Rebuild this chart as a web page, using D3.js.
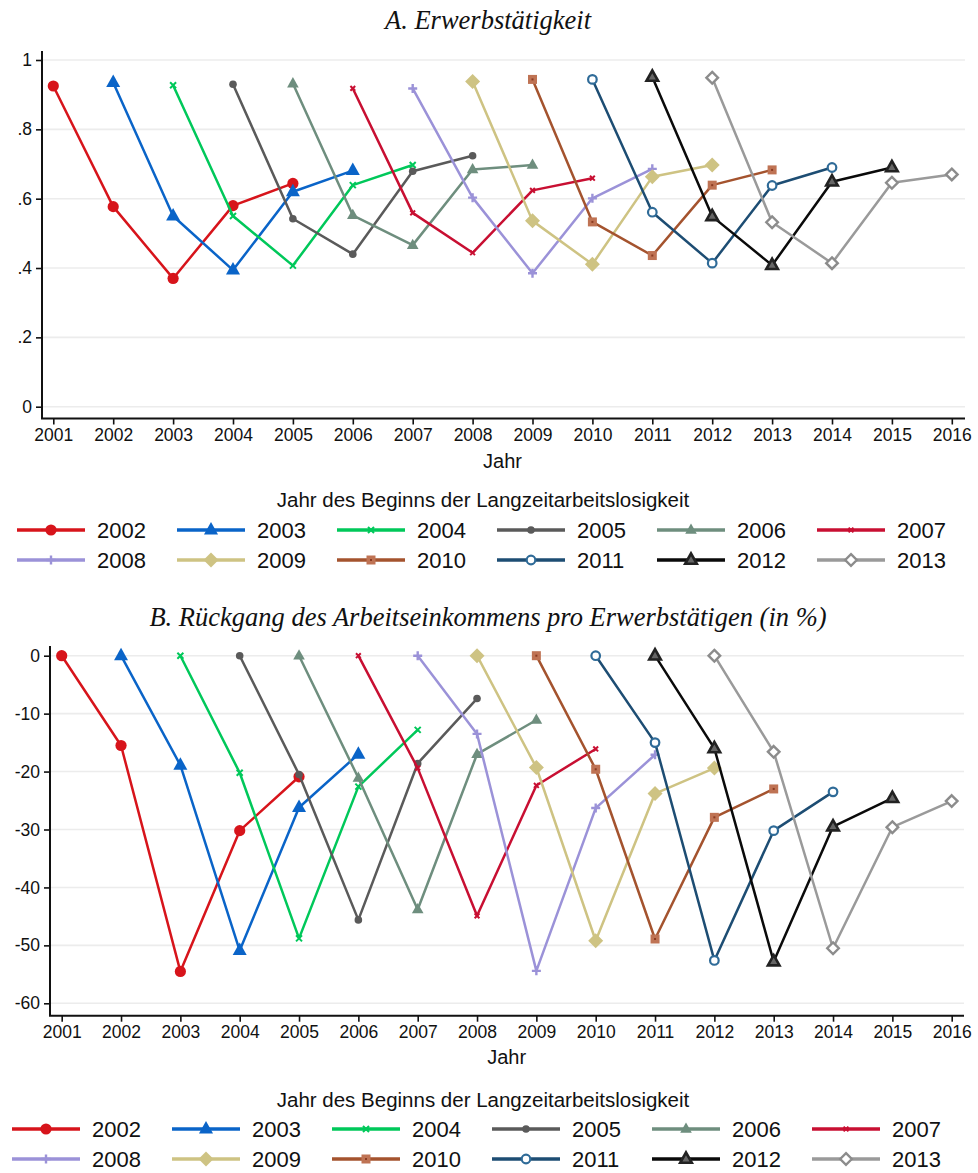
<!DOCTYPE html>
<html>
<head>
<meta charset="utf-8">
<script src="https://cdn.jsdelivr.net/npm/d3@7"></script>
<style>
  body { margin: 0; background: #fff; }
  svg { display: block; }
</style>
</head>
<body>
<svg id="chart" width="978" height="1173"></svg>
<script>
// Calendar years on the x axis
const tickYears = [2001, 2002, 2003, 2004, 2005, 2006, 2007, 2008, 2009, 2010, 2011, 2012, 2013, 2014, 2015, 2016];

// Cohorts: year in which long-term unemployment began
const cohorts = [2002, 2003, 2004, 2005, 2006, 2007, 2008, 2009, 2010, 2011, 2012, 2013];

// Each row covers the years cohort-1 ... cohort+3
const employmentRate = [
  [0.925, 0.577, 0.370, 0.580, 0.644],
  [0.935, 0.550, 0.394, 0.620, 0.681],
  [0.927, 0.550, 0.407, 0.639, 0.697],
  [0.930, 0.542, 0.440, 0.679, 0.724],
  [0.932, 0.552, 0.466, 0.684, 0.697],
  [0.918, 0.559, 0.444, 0.624, 0.659],
  [0.918, 0.603, 0.385, 0.601, 0.686],
  [0.938, 0.536, 0.411, 0.663, 0.697],
  [0.944, 0.533, 0.436, 0.639, 0.683],
  [0.944, 0.561, 0.414, 0.638, 0.690],
  [0.951, 0.549, 0.408, 0.649, 0.690],
  [0.949, 0.532, 0.414, 0.646, 0.670]
];

const earningsDrop = [
  [0, -15.5, -54.5, -30.2, -20.9],
  [0, -18.9, -50.9, -26.2, -17.0],
  [0, -20.2, -48.8, -22.6, -12.8],
  [0, -20.5, -45.6, -18.6, -7.4],
  [0, -21.1, -43.8, -17.0, -11.1],
  [0, -19.4, -44.9, -22.4, -16.1],
  [0, -13.5, -54.4, -26.3, -17.1],
  [0, -19.3, -49.2, -23.8, -19.4],
  [0, -19.6, -48.9, -27.9, -23.0],
  [0, -15.0, -52.6, -30.2, -23.5],
  [0, -16.0, -52.8, -29.5, -24.6],
  [0, -16.6, -50.5, -29.6, -25.1]
];

const employmentTicks = [0, 0.2, 0.4, 0.6, 0.8, 1];
const earningsTicks = [0, -10, -20, -30, -40, -50, -60];

const lineColors = ["#d7141b", "#0a64c8", "#00c85a", "#5a5a5a", "#6e8e7e", "#c80f32",
                    "#9b92d8", "#cec383", "#a4532e", "#1d4d73", "#0a0a0a", "#9a9a9a"];
const markerColors = ["#d7141b", "#0a64c8", "#00c85a", "#5a5a5a", "#6e8e7e", "#c80f32",
                      "#9b92d8", "#cec383", "#bf7354", "#2f6b98", "#222222", "#8c8c8c"];
const markerShapes = ["dotL", "triL", "xS", "dotS", "triM", "xXS",
                      "plus", "diamond", "square", "ring", "triO", "diamondO"];

const titleA = "A. Erwerbstätigkeit";
const titleB = "B. Rückgang des Arbeitseinkommens pro Erwerbstätigen (in %)";
const xTitle = "Jahr";
const legendTitle = "Jahr des Beginns der Langzeitarbeitslosigkeit";

const svg = d3.select("#chart");
const SANS = "'Liberation Sans', Arial, sans-serif";
const SERIF = "'Liberation Serif', 'Times New Roman', serif";

function drawMarker(g, shape, x, y, color) {
  switch (shape) {
    case "dotL":
      g.append("circle").attr("cx", x).attr("cy", y).attr("r", 5.6).attr("fill", color); break;
    case "dotS":
      g.append("circle").attr("cx", x).attr("cy", y).attr("r", 3.8).attr("fill", color); break;
    case "triL":
      g.append("path").attr("d", `M${x},${y - 8}L${x - 7},${y + 4.5}L${x + 7},${y + 4.5}Z`).attr("fill", color); break;
    case "triM":
      g.append("path").attr("d", `M${x},${y - 6.5}L${x - 5.8},${y + 3.8}L${x + 5.8},${y + 3.8}Z`).attr("fill", color); break;
    case "triO":
      g.append("path").attr("d", `M${x},${y - 6.5}L${x - 5.8},${y + 3.8}L${x + 5.8},${y + 3.8}Z`)
        .attr("fill", "#666").attr("stroke", color).attr("stroke-width", 2.6).attr("stroke-linejoin", "miter"); break;
    case "xS":
    case "xXS": {
      const s = shape === "xS" ? 3 : 2.4;
      g.append("path").attr("d", `M${x - s},${y - s}L${x + s},${y + s}M${x - s},${y + s}L${x + s},${y - s}`)
        .attr("stroke", color).attr("stroke-width", 2).attr("fill", "none"); break;
    }
    case "plus":
      g.append("path").attr("d", `M${x - 4.5},${y}L${x + 4.5},${y}M${x},${y - 4.5}L${x},${y + 4.5}`)
        .attr("stroke", color).attr("stroke-width", 2.4).attr("fill", "none"); break;
    case "diamond":
      g.append("path").attr("d", `M${x},${y - 7.5}L${x + 7.5},${y}L${x},${y + 7.5}L${x - 7.5},${y}Z`).attr("fill", color); break;
    case "diamondO":
      g.append("path").attr("d", `M${x},${y - 5.8}L${x + 5.8},${y}L${x},${y + 5.8}L${x - 5.8},${y}Z`)
        .attr("fill", "#fff").attr("stroke", color).attr("stroke-width", 2.4); break;
    case "square":
      g.append("rect").attr("x", x - 4.5).attr("y", y - 4.5).attr("width", 9).attr("height", 9).attr("fill", color);
      g.append("rect").attr("x", x - 1).attr("y", y - 1).attr("width", 2).attr("height", 2).attr("fill", "#8a3b22"); break;
    case "ring":
      g.append("circle").attr("cx", x).attr("cy", y).attr("r", 4.3)
        .attr("fill", "#fff").attr("stroke", color).attr("stroke-width", 2.2); break;
  }
}

function drawPanel(cfg) {
  const g = svg.append("g");
  const x = d3.scaleLinear().domain([tickYears[0], tickYears[tickYears.length - 1]]).range(cfg.xRange);
  const y = d3.scaleLinear().domain(cfg.yDomain).range(cfg.yRange);

  // title
  g.append("text").attr("x", 488).attr("y", cfg.titleY).attr("text-anchor", "middle")
    .attr("font-family", SERIF).attr("font-style", "italic").attr("font-size", 26.5).attr("fill", "#111")
    .text(cfg.title);

  // gridlines
  g.append("g").selectAll("line").data(cfg.yTicks).join("line")
    .attr("x1", cfg.axisX + 1).attr("x2", cfg.axisXEnd)
    .attr("y1", d => y(d)).attr("y2", d => y(d))
    .attr("stroke", "#ececec").attr("stroke-width", 1.6);

  // y axis
  const yAxis = g.append("g").attr("transform", `translate(${cfg.axisX},0)`)
    .call(d3.axisLeft(y).tickValues(cfg.yTicks).tickSize(6).tickPadding(4).tickFormat(cfg.yFormat));
  yAxis.select(".domain").remove();
  yAxis.selectAll(".tick line").attr("stroke", "#111").attr("stroke-width", 1.6);
  yAxis.selectAll(".tick text").attr("font-family", SANS).attr("font-size", 17.5).attr("fill", "#111");
  g.append("line").attr("x1", cfg.axisX).attr("x2", cfg.axisX)
    .attr("y1", cfg.axisYTop).attr("y2", cfg.axisYBottom).attr("stroke", "#111").attr("stroke-width", 2);

  // x axis
  const xAxis = g.append("g").attr("transform", `translate(0,${cfg.axisYBottom})`)
    .call(d3.axisBottom(x).tickValues(tickYears).tickSize(6).tickPadding(4).tickFormat(d3.format("d")));
  xAxis.select(".domain").remove();
  xAxis.selectAll(".tick line").attr("stroke", "#111").attr("stroke-width", 1.6);
  xAxis.selectAll(".tick text").attr("font-family", SANS).attr("font-size", 17.5).attr("fill", "#111");
  g.append("line").attr("x1", cfg.axisX - 1).attr("x2", cfg.axisXEnd)
    .attr("y1", cfg.axisYBottom).attr("y2", cfg.axisYBottom).attr("stroke", "#111").attr("stroke-width", 2);

  g.append("text").attr("x", (cfg.xRange[0] + cfg.xRange[1]) / 2).attr("y", cfg.xTitleY)
    .attr("text-anchor", "middle").attr("font-family", SANS).attr("font-size", 20).attr("fill", "#111")
    .text(xTitle);

  // series
  const line = d3.line().x(d => x(d.year)).y(d => y(d.value));
  cohorts.forEach((c, i) => {
    const pts = cfg.values[i].map((v, k) => ({ year: c - 1 + k, value: v }));
    const sg = g.append("g");
    sg.append("path").attr("d", line(pts)).attr("fill", "none")
      .attr("stroke", lineColors[i]).attr("stroke-width", 2.5).attr("stroke-linejoin", "round");
    pts.forEach(p => drawMarker(sg, markerShapes[i], x(p.year), y(p.value), markerColors[i]));
  });

  // legend
  const lg = g.append("g");
  lg.append("text").attr("x", 483).attr("y", cfg.legendTitleY).attr("text-anchor", "middle")
    .attr("dominant-baseline", "central")
    .attr("font-family", SANS).attr("font-size", 20.5).attr("fill", "#111").text(legendTitle);
  cohorts.forEach((c, i) => {
    const col = i % 6, row = Math.floor(i / 6);
    const x0 = cfg.legendX0 + col * 160;
    const yy = cfg.legendRows[row];
    lg.append("line").attr("x1", x0).attr("x2", x0 + 68).attr("y1", yy).attr("y2", yy)
      .attr("stroke", lineColors[i]).attr("stroke-width", 3.6);
    drawMarker(lg, markerShapes[i], x0 + 34, yy, markerColors[i]);
    lg.append("text").attr("x", x0 + 80).attr("y", yy).attr("dominant-baseline", "central")
      .attr("font-family", SANS).attr("font-size", 22).attr("fill", "#111").text(c);
  });
}

drawPanel({
  title: titleA, titleY: 29,
  values: employmentRate, yTicks: employmentTicks,
  yFormat: d => d === 0 ? "0" : d === 1 ? "1" : d3.format(".1f")(d).replace(/^0/, ""),
  yDomain: [0, 1], yRange: [406.7, 60],
  xRange: [53.3, 951.8],
  axisX: 42, axisXEnd: 965, axisYTop: 51, axisYBottom: 418.5,
  xTitleY: 468,
  legendTitleY: 499, legendRows: [530, 560], legendX0: 17
});

drawPanel({
  title: titleB, titleY: 626,
  values: earningsDrop, yTicks: earningsTicks,
  yFormat: d => String(d),
  yDomain: [0, -60], yRange: [655.7, 1003.3],
  xRange: [61.7, 951.7],
  axisX: 50, axisXEnd: 964, axisYTop: 646, axisYBottom: 1015.7,
  xTitleY: 1064,
  legendTitleY: 1099, legendRows: [1129, 1159], legendX0: 12
});
</script>
</body>
</html>
